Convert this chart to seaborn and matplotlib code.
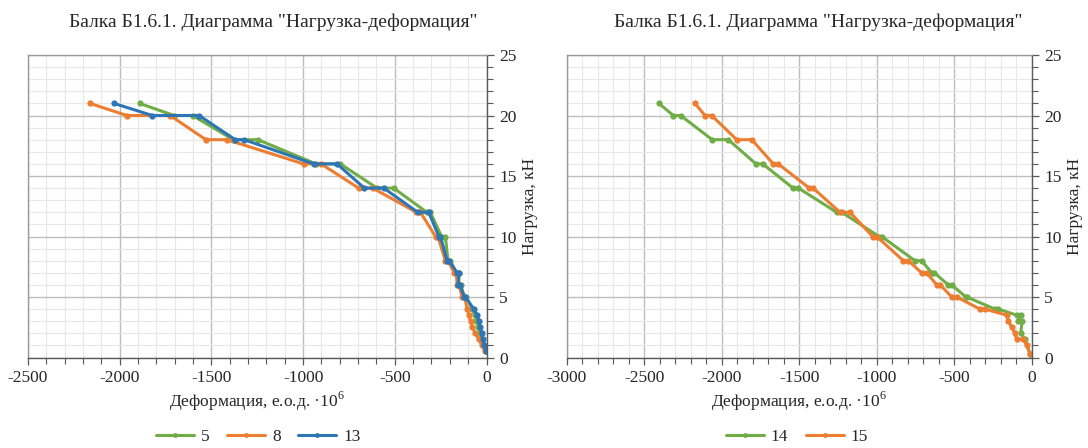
import matplotlib
matplotlib.use("Agg")
import matplotlib.pyplot as plt
from matplotlib.ticker import MultipleLocator
from matplotlib.lines import Line2D
import seaborn as sns
import pandas as pd

# ---------------- data ----------------
TITLE = 'Балка Б1.6.1. Диаграмма "Нагрузка-деформация"'
XLABEL = 'Деформация, е.о.д. ·10$^6$'
YLABEL = 'Нагрузка, кН'

left_load = [21, 20, 20, 18, 18, 16, 16, 14, 14, 12, 12, 10, 10, 8, 8, 7, 7,
             6, 6, 5, 5, 4, 3.5, 3, 2.5, 2, 1.5, 1, 0.5]
s5_def = [-1892, -1703, -1603, -1380, -1246, -930, -797, -597, -506, -325, -306,
          -245, -224, -210, -197, -165, -150, -150, -140, -120, -110, -78, -65,
          -55, -45, -35, -25, -15, -5]
s8_def = [-2162, -1961, -1725, -1530, -1415, -997, -902, -697, -620, -382, -360,
          -278, -265, -224, -210, -175, -165, -160, -150, -133, -120, -105, -96,
          -87, -78, -60, -42, -25, -10]
s13_def = [-2031, -1822, -1567, -1370, -1321, -943, -815, -666, -560, -375, -315,
           -260, -251, -215, -205, -160, -151, -155, -146, -120, -115, -69, -51,
           -42, -33, -27, -20, -11, -5]

s14_load = [21, 20, 20, 18, 18, 16, 16, 14, 14, 12, 12, 10, 10, 8, 8, 7, 7, 6, 6,
            5, 5, 4, 4, 3.5, 3.5, 3, 3, 2, 1.5, 0.3]
s14_def = [-2405, -2312, -2265, -2061, -1957, -1779, -1735, -1540, -1505, -1258,
           -1225, -985, -968, -753, -710, -645, -628, -538, -516, -425, -419, -237,
           -215, -97, -71, -86, -62, -71, -45, -11]
s15_load = [21, 20, 20, 18, 18, 16, 16, 14, 14, 12, 12, 10, 10, 8, 8, 7, 7, 6, 6,
            5, 5, 4, 4, 3.5, 3, 2.5, 2, 1.5, 1.5, 1, 0.3]
s15_def = [-2172, -2108, -2065, -1903, -1806, -1667, -1635, -1435, -1410, -1237,
           -1172, -1026, -1000, -828, -796, -710, -677, -613, -590, -516, -484,
           -334, -301, -161, -151, -129, -108, -97, -54, -32, -11]

GREEN, ORANGE, BLUE = "#70AD47", "#ED7D31", "#2E75B6"

def frame(name, xs, ys):
    return pd.DataFrame({"def": xs, "load": ys, "series": name})

df_left = pd.concat([frame("5", s5_def, left_load),
                     frame("8", s8_def, left_load),
                     frame("13", s13_def, left_load)], ignore_index=True)
df_right = pd.concat([frame("14", s14_def, s14_load),
                      frame("15", s15_def, s15_load)], ignore_index=True)

# ---------------- style ----------------
sns.set_theme(style="white")
plt.rcParams['font.family'] = ['Liberation Serif', 'DejaVu Serif']
plt.rcParams['mathtext.fontset'] = 'custom'
plt.rcParams['mathtext.rm'] = 'Liberation Serif'
plt.rcParams['axes.unicode_minus'] = False

fig = plt.figure(figsize=(10.88, 4.48), dpi=100)
W, H = 1088, 448

def make_axes(x0, x1, y0, y1):
    return fig.add_axes([x0 / W, 1 - y1 / H, (x1 - x0) / W, (y1 - y0) / H])

axL = make_axes(28, 486.5, 55, 357.5)
axR = make_axes(566.7, 1031.7, 55, 357.5)

def style_axes(ax, xmin):
    ax.set_xlim(xmin, 0)
    ax.set_ylim(0, 25)
    ax.xaxis.set_major_locator(MultipleLocator(500))
    ax.xaxis.set_minor_locator(MultipleLocator(100))
    ax.yaxis.set_major_locator(MultipleLocator(5))
    ax.yaxis.set_minor_locator(MultipleLocator(1))
    ax.grid(which="major", color="#BDBDBD", linewidth=1.0)
    ax.grid(which="minor", color="#E8E8E8", linewidth=0.8)
    ax.set_axisbelow(True)
    ax.yaxis.tick_right()
    ax.yaxis.set_label_position("right")
    ax.tick_params(axis="both", which="both", direction="out", color="#595959",
                   labelsize=12.5, pad=4, labelcolor="#262626")
    ax.tick_params(axis="both", which="major", length=5, width=0.9)
    ax.tick_params(axis="both", which="minor", length=4, width=0.8)
    ax.tick_params(axis="x", which="both", bottom=True, top=False)
    ax.tick_params(axis="y", which="both", right=True, left=False)
    for s in ["top", "left"]:
        ax.spines[s].set_color("#9A9A9A")
        ax.spines[s].set_linewidth(1.0)
    for s in ["bottom", "right"]:
        ax.spines[s].set_color("#595959")
        ax.spines[s].set_linewidth(1.0)

style_axes(axL, -2500)
style_axes(axR, -3000)

sns.lineplot(data=df_left, x="def", y="load", hue="series", sort=False,
             estimator=None, palette={"5": GREEN, "8": ORANGE, "13": BLUE},
             hue_order=["5", "8", "13"], marker="o", markersize=4.5,
             markeredgewidth=0, linewidth=2.2, ax=axL, legend=False)
sns.lineplot(data=df_right, x="def", y="load", hue="series", sort=False,
             estimator=None, palette={"14": GREEN, "15": ORANGE},
             hue_order=["14", "15"], marker="o", markersize=4.5,
             markeredgewidth=0, linewidth=2.2, ax=axR, legend=False)

for ax in (axL, axR):
    ax.set_xlabel(XLABEL, fontsize=12.5, labelpad=3, color="#262626")
    ax.set_ylabel(YLABEL, fontsize=12.5, labelpad=4, color="#262626")

def handles(names, colors):
    return [Line2D([0], [0], color=c, lw=2.2, marker="o", markersize=3.5,
                   markeredgewidth=0, label=n) for n, c in zip(names, colors)]

fig.legend(handles=handles(["5", "8", "13"], [GREEN, ORANGE, BLUE]),
           loc="center", bbox_to_anchor=(258 / W, 1 - 437 / H), ncol=3,
           frameon=False, fontsize=12.5, handlelength=2.2, handletextpad=0.4,
           columnspacing=1.0)
fig.legend(handles=handles(["14", "15"], [GREEN, ORANGE]),
           loc="center", bbox_to_anchor=(797 / W, 1 - 437 / H), ncol=2,
           frameon=False, fontsize=12.5, handlelength=2.2, handletextpad=0.4,
           columnspacing=1.0)

fig.text(273 / W, 1 - 22 / H, TITLE, ha="center", va="center", fontsize=14,
         color="#262626")
fig.text(818 / W, 1 - 22 / H, TITLE, ha="center", va="center", fontsize=14,
         color="#262626")

fig.savefig("out.png", dpi=100, facecolor="white")
